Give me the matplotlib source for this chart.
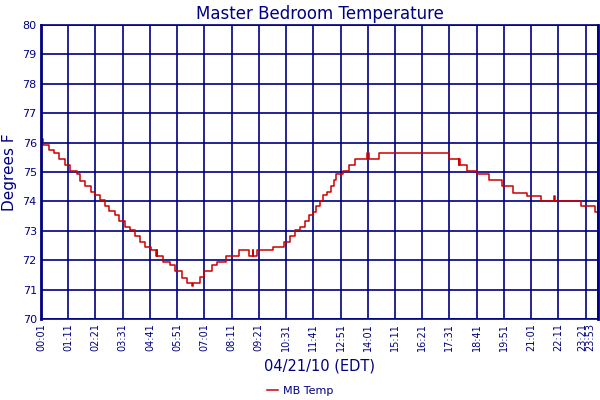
import matplotlib
matplotlib.use("Agg")
import matplotlib.pyplot as plt
from matplotlib.transforms import ScaledTranslation

# step changes: minute of day -> temperature (F)
minutes = [1, 5, 22, 34, 48, 62, 75, 94, 102, 114, 129, 141, 153, 165, 176, 192,
           202, 216, 230, 242, 255, 268, 283, 297, 299, 300, 314, 333, 345, 364,
           376, 389, 391, 410, 420, 441, 453, 477, 511, 537, 545, 547, 556, 598,
           626, 641, 655, 667, 680, 691, 700, 708, 718, 727, 737, 746, 753, 759,
           778, 794, 808, 838, 844, 871, 1049, 1075, 1076, 1078, 1096, 1123, 1153,
           1186, 1214, 1250, 1286, 1320, 1322, 1389, 1425, 1433]
temps = [76.11, 75.93, 75.75, 75.66, 75.43, 75.24, 75.02, 74.93, 74.70, 74.52,
         74.32, 74.22, 74.04, 73.84, 73.66, 73.53, 73.33, 73.13, 73.03, 72.82,
         72.63, 72.44, 72.36, 72.14, 72.36, 72.14, 71.93, 71.82, 71.63, 71.40,
         71.22, 71.11, 71.22, 71.43, 71.63, 71.82, 71.93, 72.14, 72.36, 72.14,
         72.36, 72.14, 72.36, 72.45, 72.63, 72.82, 73.03, 73.13, 73.34, 73.53,
         73.63, 73.84, 74.03, 74.23, 74.33, 74.53, 74.74, 74.93, 75.05, 75.25,
         75.45, 75.65, 75.45, 75.65, 75.44, 75.23, 75.44, 75.23, 75.02, 74.93,
         74.72, 74.52, 74.30, 74.20, 74.03, 74.20, 74.03, 73.83, 73.64, 73.64]

tick_labels = ["00:01", "01:11", "02:21", "03:31", "04:41", "05:51", "07:01",
               "08:11", "09:21", "10:31", "11:41", "12:51", "14:01", "15:11",
               "16:21", "17:31", "18:41", "19:51", "21:01", "22:11", "23:21",
               "23:53"]
y_ticks = [70, 71, 72, 73, 74, 75, 76, 77, 78, 79, 80]

navy = "#000080"
red = "#cc0000"


def to_min(s):
    h, m = s.split(":")
    return int(h) * 60 + int(m)


fig = plt.figure(figsize=(6, 4), dpi=100)
ax = fig.add_axes([41 / 600, 81 / 400, 557 / 600, 294 / 400])

ax.step(minutes, temps, where="post", color=red, linewidth=1.1, label="MB Temp")

ax.set_xlim(1, 1433)
ax.set_ylim(70, 80)
ax.set_xticks([to_min(t) for t in tick_labels])
ax.set_xticklabels(tick_labels, rotation=90, fontsize=7, color=navy)
ax.set_yticks(y_ticks)
ax.set_yticklabels([str(v) for v in y_ticks], fontsize=8, color=navy)
ax.tick_params(length=0, pad=3)
ax.grid(True, color=navy, linewidth=1.2)
ax.set_axisbelow(True)

# last two labels are nudged left so they fit, like the original
xlabs = ax.get_xticklabels()
for lab, dx in [(xlabs[-2], -3), (xlabs[-1], -8)]:
    lab.set_transform(lab.get_transform() + ScaledTranslation(dx / 100, 0, fig.dpi_scale_trans))

for side in ["top", "bottom"]:
    ax.spines[side].set_color(navy)
    ax.spines[side].set_linewidth(1.2)
for side in ["left", "right"]:
    ax.spines[side].set_color(navy)
    ax.spines[side].set_linewidth(2.0)

ax.set_title("Master Bedroom Temperature", fontsize=12, color=navy, pad=4)
ax.set_ylabel("Degrees F", fontsize=11, color=navy, labelpad=4)
ax.set_xlabel("04/21/10 (EDT)", fontsize=10.5, color=navy, labelpad=5)

fig.legend(loc="lower center", bbox_to_anchor=(0.5, -0.015), frameon=False,
           fontsize=8, labelcolor=navy, handlelength=1.0, handletextpad=0.4)

fig.savefig("out.png", dpi=100)
